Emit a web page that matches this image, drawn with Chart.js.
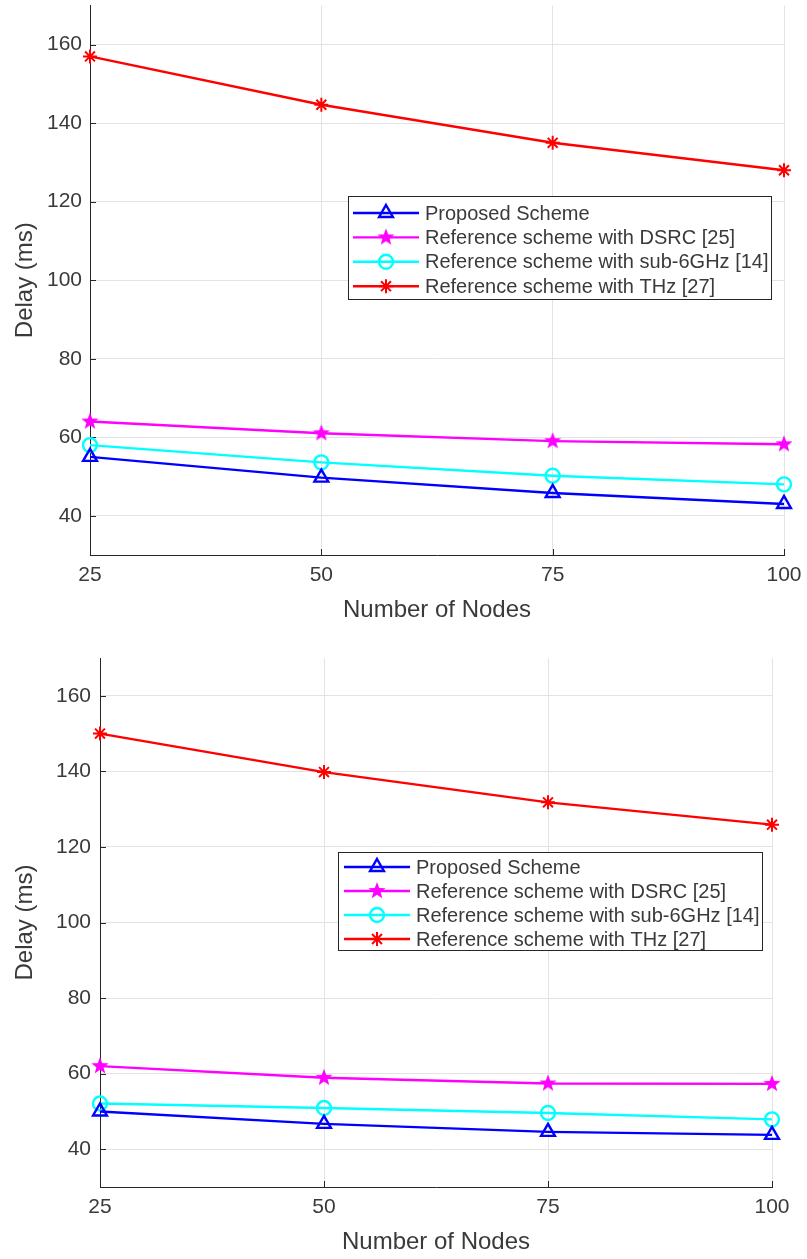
<!DOCTYPE html>
<html>
<head>
<meta charset="utf-8">
<script src="https://cdn.jsdelivr.net/npm/chart.js@4/dist/chart.umd.min.js"></script>
<style>
  body { margin: 0; background: #fff; overflow: hidden; }
  .wrap { position: absolute; left: 0; width: 807px; }
</style>
</head>
<body>
<div class="wrap" style="top:-5px; height:632px"><canvas id="delayTop"></canvas></div>
<div class="wrap" style="top:632px; height:627px"><canvas id="delayBottom"></canvas></div>
<script>
// x values and tick labels
const nodes = [25, 50, 75, 100];
const yTicks = [40, 60, 80, 100, 120, 140, 160];
const seriesNames = [
    'Proposed Scheme',
    'Reference scheme with DSRC [25]',
    'Reference scheme with sub-6GHz [14]',
    'Reference scheme with THz [27]'
];

// upper figure
const topProposed = [55, 49.7, 45.8, 43];
const topDsrc = [64, 61, 59, 58.2];
const topSub6 = [58, 53.6, 50.2, 48];
const topThz = [157, 144.7, 135, 128];

// lower figure
const bottomProposed = [50, 46.7, 44.6, 43.8];
const bottomDsrc = [62, 58.9, 57.4, 57.3];
const bottomSub6 = [52.1, 50.9, 49.6, 47.9];
const bottomThz = [150, 139.8, 131.8, 125.9];

const textColor = '#3a3a3a';
const axisColor = '#262626';

// filled 5 point star (matlab pentagram marker)
function pentagram(color, r) {
    const c = document.createElement('canvas');
    c.width = c.height = Math.ceil(r * 2 + 2);
    const g = c.getContext('2d');
    const cx = c.width / 2, cy = c.height / 2;
    g.beginPath();
    for (let i = 0; i < 10; i++) {
        const rad = i % 2 === 0 ? r : r * 0.42;
        const a = -Math.PI / 2 + i * Math.PI / 5;
        g.lineTo(cx + rad * Math.cos(a), cy + rad * Math.sin(a));
    }
    g.closePath();
    g.fillStyle = color;
    g.fill();
    return c;
}
const starMarker = pentagram('#ff00ff', 9);

function toPoints(arr) {
    return nodes.map((n, i) => ({ x: n, y: arr[i] }));
}

// legend box drawn inside the plot, like the matlab one
const insideLegend = {
    id: 'insideLegend',
    afterDraw(chart, args, o) {
        const ctx = chart.ctx;
        ctx.save();
        ctx.fillStyle = '#ffffff';
        ctx.fillRect(o.x, o.y, o.w, o.h);
        ctx.strokeStyle = axisColor;
        ctx.lineWidth = 1;
        ctx.strokeRect(o.x + 0.5, o.y + 0.5, o.w, o.h);
        ctx.font = '20px "Liberation Sans", Arial, sans-serif';
        ctx.textBaseline = 'middle';
        chart.data.datasets.forEach((ds, i) => {
            const cy = o.y + o.firstRow + i * o.rowGap;
            const x0 = o.x + o.lineStart;
            const x1 = x0 + o.lineLen;
            ctx.strokeStyle = ds.borderColor;
            ctx.lineWidth = ds.borderWidth;
            ctx.beginPath();
            ctx.moveTo(x0, cy);
            ctx.lineTo(x1, cy);
            ctx.stroke();
            ctx.fillStyle = ds.pointBackgroundColor;
            ctx.strokeStyle = ds.pointBorderColor;
            ctx.lineWidth = ds.pointBorderWidth;
            Chart.helpers.drawPoint(ctx, {
                pointStyle: ds.pointStyle,
                radius: ds.pointRadius,
                borderWidth: ds.pointBorderWidth,
                rotation: 0
            }, (x0 + x1) / 2, cy);
            ctx.fillStyle = textColor;
            ctx.fillText(ds.label, x1 + 6, cy + 1);
        });
        ctx.restore();
    }
};

// small inward tick marks on left and bottom axes
const innerTicks = {
    id: 'innerTicks',
    beforeDatasetsDraw(chart) {
        const ctx = chart.ctx;
        const { left, bottom } = chart.chartArea;
        ctx.save();
        ctx.strokeStyle = axisColor;
        ctx.lineWidth = 1;
        ctx.beginPath();
        yTicks.forEach(v => {
            const y = Math.round(chart.scales.y.getPixelForValue(v)) + 0.5;
            ctx.moveTo(left, y);
            ctx.lineTo(left + 6, y);
        });
        nodes.forEach(v => {
            const x = Math.round(chart.scales.x.getPixelForValue(v)) + 0.5;
            ctx.moveTo(x, bottom);
            ctx.lineTo(x, bottom - 6);
        });
        ctx.stroke();
        ctx.restore();
    }
};

function makeChart(id, values, box) {
    const datasets = [
        {
            label: seriesNames[0],
            data: toPoints(values[0]),
            borderColor: '#0000ff',
            borderWidth: 2.4,
            pointStyle: 'triangle',
            pointRadius: 8,
            pointBackgroundColor: 'rgba(0,0,0,0)',
            pointBorderColor: '#0000ff',
            pointBorderWidth: 2.4
        },
        {
            label: seriesNames[1],
            data: toPoints(values[1]),
            borderColor: '#ff00ff',
            borderWidth: 2.4,
            pointStyle: starMarker,
            pointRadius: 9,
            pointBackgroundColor: '#ff00ff',
            pointBorderColor: '#ff00ff',
            pointBorderWidth: 0
        },
        {
            label: seriesNames[2],
            data: toPoints(values[2]),
            borderColor: '#00ffff',
            borderWidth: 2.4,
            pointStyle: 'circle',
            pointRadius: 7,
            pointBackgroundColor: 'rgba(0,0,0,0)',
            pointBorderColor: '#00ffff',
            pointBorderWidth: 2.4
        },
        {
            label: seriesNames[3],
            data: toPoints(values[3]),
            borderColor: '#ff0000',
            borderWidth: 2.4,
            pointStyle: 'star',
            pointRadius: 7,
            pointBackgroundColor: '#ff0000',
            pointBorderColor: '#ff0000',
            pointBorderWidth: 2
        }
    ];
    datasets.forEach(d => { d.clip = false; });

    return new Chart(document.getElementById(id), {
        type: 'line',
        data: { datasets: datasets },
        plugins: [innerTicks, insideLegend],
        options: {
            responsive: true,
            maintainAspectRatio: false,
            animation: false,
            layout: {
                padding: { top: box.top, right: box.right, left: 0, bottom: 0 }
            },
            scales: {
                x: {
                    type: 'linear',
                    min: 25,
                    max: 100,
                    afterBuildTicks: s => { s.ticks = nodes.map(v => ({ value: v })); },
                    afterFit: s => {
                        s.height = box.xHeight;
                        s.paddingLeft = 0;
                        s.paddingRight = 0;
                    },
                    grid: { color: '#e3e3e3', drawTicks: false },
                    border: { color: axisColor, width: 1 },
                    ticks: {
                        padding: 8,
                        color: textColor,
                        maxRotation: 0,
                        font: { family: '"Liberation Sans", Arial, sans-serif', size: 21 }
                    },
                    title: {
                        display: true,
                        text: 'Number of Nodes',
                        color: textColor,
                        padding: { top: 0, bottom: 2 },
                        font: { family: '"Liberation Sans", Arial, sans-serif', size: 24 }
                    }
                },
                y: {
                    min: 30,
                    max: 170,
                    afterBuildTicks: s => { s.ticks = yTicks.map(v => ({ value: v })); },
                    afterFit: s => {
                        s.width = box.left;
                        s.paddingTop = 0;
                        s.paddingBottom = 0;
                    },
                    grid: { color: '#e3e3e3', drawTicks: false },
                    border: { color: axisColor, width: 1 },
                    ticks: {
                        padding: box.yPad,
                        color: textColor,
                        font: { family: '"Liberation Sans", Arial, sans-serif', size: 21 }
                    },
                    title: {
                        display: true,
                        text: 'Delay (ms)',
                        color: textColor,
                        padding: { top: 11, bottom: 0 },
                        font: { family: '"Liberation Sans", Arial, sans-serif', size: 24 }
                    }
                }
            },
            plugins: {
                legend: { display: false },
                tooltip: { enabled: false },
                insideLegend: box.legend
            }
        }
    });
}

// top canvas is shifted 5px up, so its coordinates are page y + 5
makeChart('delayTop', [topProposed, topDsrc, topSub6, topThz], {
    top: 5, right: 23, left: 90, xHeight: 72, yPad: 8,
    legend: { x: 348, y: 201, w: 423, h: 103, firstRow: 17, rowGap: 24.4, lineStart: 5, lineLen: 66 }
});

makeChart('delayBottom', [bottomProposed, bottomDsrc, bottomSub6, bottomThz], {
    top: 26, right: 35, left: 100, xHeight: 72, yPad: 9,
    legend: { x: 338, y: 220, w: 424, h: 98, firstRow: 15, rowGap: 24, lineStart: 6, lineLen: 66 }
});
</script>
</body>
</html>
